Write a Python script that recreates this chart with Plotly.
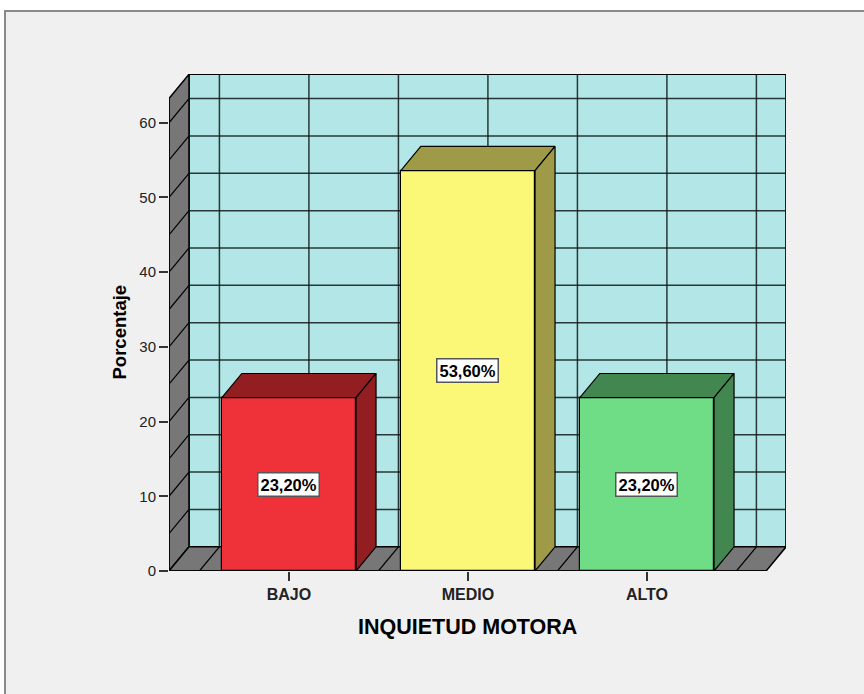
import plotly.graph_objects as go

# ---------------- data ----------------
categories = ["BAJO", "MEDIO", "ALTO"]
percentages = [23.2, 53.6, 23.2]
y_tick_values = [0, 10, 20, 30, 40, 50, 60]
x_title = "INQUIETUD MOTORA"
y_title = "Porcentaje"

# ---------------- styles ----------------
front_colors = ["#ef3239", "#fbf777", "#6fdd85"]
dark_colors = ["#921e22", "#9e9a48", "#42874f"]
WALL_BACK = "#b3e6e6"
WALL_GRAY = "#777777"
GRID_COL = "rgba(15,25,25,0.85)"
FONT = "Arial, Liberation Sans, sans-serif"

W, H = 864, 694
L, T, R, B = 169, 74, 78, 123
PW, PH = W - L - R, H - T - B

X_RANGE = [-0.670, 2.777]
Y_RANGE = [0, 66.53]
XL, XR = -0.670, 2.666        # front floor edge extent
DX, DY = 0.1117, 3.24         # depth offset (data units)
WALL_TOP = 63.25              # front top of left wall
BAR_W = 0.75
GRID_Y = list(range(0, 65, 5))
GRID_X = [-0.5, 0, 0.5, 1.0, 1.5, 2.0, 2.5]


def px_to_paper(px, py):
    return (px - L) / PW, (H - B - py) / PH


shapes = []

# outer frame
fx0, fy0 = px_to_paper(5, 11)
fx1, fy1 = px_to_paper(900, 720)
shapes.append(dict(type="rect", xref="paper", yref="paper", x0=fx0, y0=fy0, x1=fx1, y1=fy1,
                   fillcolor="#f0f0f0", line=dict(color="#8a8a8a", width=2), layer="below"))

def poly(pts, fill, lw=1.5, col="black"):
    path = "M " + " L ".join(f"{x},{y}" for x, y in pts) + " Z"
    shapes.append(dict(type="path", xref="x", yref="y", path=path, fillcolor=fill,
                       line=dict(color=col, width=lw), layer="below"))

def seg(x0, y0, x1, y1, col=GRID_COL, lw=1.5):
    shapes.append(dict(type="line", xref="x", yref="y", x0=x0, y0=y0, x1=x1, y1=y1,
                       line=dict(color=col, width=lw), layer="below"))

# back wall
poly([(XL + DX, DY), (XR + DX, DY), (XR + DX, WALL_TOP + DY), (XL + DX, WALL_TOP + DY)], WALL_BACK)
# left wall
poly([(XL, 0), (XL + DX, DY), (XL + DX, WALL_TOP + DY), (XL, WALL_TOP)], WALL_GRAY)
# floor
poly([(XL, 0), (XR, 0), (XR + DX, DY), (XL + DX, DY)], WALL_GRAY)

# back wall grid
for g in GRID_Y[1:]:
    seg(XL + DX, g + DY, XR + DX, g + DY)
    seg(XL, g, XL + DX, g + DY, col="black", lw=1.2)
for c in GRID_X:
    seg(c + DX, DY, c + DX, WALL_TOP + DY)
    seg(c, 0, c + DX, DY, col="black", lw=1.2)

# outline edges again on top of grid
seg(XL + DX, WALL_TOP + DY, XR + DX, WALL_TOP + DY, col="black", lw=1.5)
seg(XR + DX, DY, XR + DX, WALL_TOP + DY, col="black", lw=1.5)
seg(XL, 0, XR, 0, col="black", lw=1.5)
seg(XL, 0, XL, WALL_TOP, col="black", lw=1.5)

fig = go.Figure()

xs = list(range(len(categories)))
fig.add_trace(go.Bar(x=xs, y=percentages, width=BAR_W,
                     marker=dict(color=front_colors, line=dict(color="black", width=1.2)),
                     hoverinfo="skip", showlegend=False))

for i, v in enumerate(percentages):
    a, b = i - BAR_W / 2, i + BAR_W / 2
    # top face
    fig.add_trace(go.Scatter(x=[a, b, b + DX, a + DX, a], y=[v, v, v + DY, v + DY, v],
                             fill="toself", fillcolor=dark_colors[i], mode="lines",
                             line=dict(color="black", width=1.2), hoverinfo="skip", showlegend=False))
    # side face
    fig.add_trace(go.Scatter(x=[b, b + DX, b + DX, b, b], y=[0, DY, v + DY, v, 0],
                             fill="toself", fillcolor=dark_colors[i], mode="lines",
                             line=dict(color="black", width=1.2), hoverinfo="skip", showlegend=False))

annotations = []
for i, v in enumerate(percentages):
    annotations.append(dict(x=i, y=v / 2, xref="x", yref="y",
                            text="<b>" + f"{v:.2f}".replace(".", ",") + "%</b>",
                            showarrow=False, bgcolor="white", bordercolor="#555",
                            borderwidth=1.5, borderpad=2,
                            font=dict(family=FONT, size=16.5, color="black")))

ax, ay = px_to_paper(118.5, 332)
annotations.append(dict(x=ax, y=ay, xref="paper", yref="paper", text=f"<b>{y_title}</b>",
                        textangle=-90, showarrow=False, xanchor="center", yanchor="middle",
                        font=dict(family=FONT, size=18.5, color="black")))
bx, by = px_to_paper(467, 627)
annotations.append(dict(x=bx, y=by, xref="paper", yref="paper", text=f"<b>{x_title}</b>",
                        showarrow=False, xanchor="center", yanchor="middle",
                        font=dict(family=FONT, size=21.5, color="black")))

fig.update_layout(
    width=W, height=H,
    margin=dict(l=L, r=R, t=T, b=B, pad=0),
    paper_bgcolor="white", plot_bgcolor="rgba(0,0,0,0)",
    shapes=shapes, annotations=annotations,
    bargap=0, showlegend=False,
    xaxis=dict(range=X_RANGE, tickvals=xs, ticktext=[f"<b>{c}</b>" for c in categories],
               ticks="outside", ticklen=9, tickwidth=1.5, tickcolor="#333",
               showgrid=False, zeroline=False, showline=False, fixedrange=True,
               tickfont=dict(family=FONT, size=16, color="#222")),
    yaxis=dict(range=Y_RANGE, tickvals=y_tick_values, ticks="outside", ticklen=9,
               tickwidth=1.5, tickcolor="#333",
               showgrid=False, zeroline=False, showline=False, fixedrange=True,
               tickfont=dict(family=FONT, size=15, color="#222")),
)

fig.write_html("out.html", config={"displayModeBar": False},
               post_script="document.body.style.margin='0';document.body.style.overflow='hidden';")
